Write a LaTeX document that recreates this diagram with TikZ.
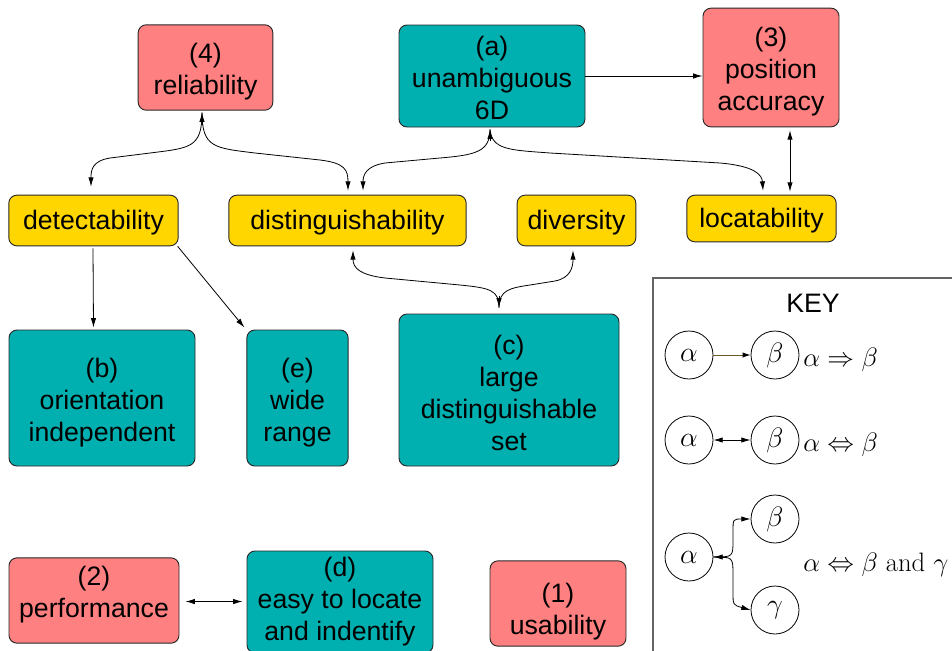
\documentclass[tikz,border=0pt]{standalone}
\usepackage{fix-cm}
\usepackage{fontspec}
\newfontfamily\arialfont{Liberation Sans}
\usetikzlibrary{arrows.meta,calc}
\definecolor{tealbox}{RGB}{0,176,176}
\definecolor{pinkbox}{RGB}{255,128,128}
\definecolor{goldbox}{RGB}{255,214,0}
\definecolor{edgegray}{RGB}{40,40,40}
\definecolor{keygray}{RGB}{100,100,100}
\definecolor{oliveline}{RGB}{110,90,40}
% invisible strut that lowers the first line of a box label
\newcommand{\topstrut}[1]{\rule{0pt}{#1}}
\tikzset{
  boxtext/.style={align=center, inner sep=0pt, font=\arialfont\fontsize{20}{24}\selectfont},
  box/.style={draw=edgegray, line width=0.7pt, rounded corners=6pt, boxtext},
  goal/.style={box, fill=pinkbox},
  feat/.style={box, fill=tealbox},
  prop/.style={box, fill=goldbox},
  arr/.style={line width=0.6pt, -{Latex[length=7pt,width=4pt]}},
  darr/.style={line width=0.6pt, {Latex[length=7pt,width=4pt]}-{Latex[length=7pt,width=4pt]}},
  keycirc/.style={circle, draw, line width=0.6pt, minimum size=36pt, inner sep=0pt,
    font=\fontsize{21}{24}\selectfont},
  keytxt/.style={anchor=west, inner sep=0pt, font=\fontsize{20}{24}\selectfont},
}
\begin{document}
\begin{tikzpicture}[x=0.75pt,y=-0.75pt]
\useasboundingbox (0,0) rectangle (952,650);
\clip (0,0) rectangle (952,650);

% top row
\node[goal, minimum width=101pt, minimum height=64pt] (rel) at (205.5,67.5) {\topstrut{20pt}(4)\\reliability};
\node[feat, minimum width=139.5pt, minimum height=76.5pt] (unam) at (492,76) {\topstrut{18pt}(a)\\unambiguous\\6D};
\node[goal, minimum width=102pt, minimum height=89pt] (pos) at (771,67.5) {\topstrut{20pt}(3)\\position\\accuracy};

% properties
\node[prop, minimum width=127pt, minimum height=38pt] (det) at (93.5,220.5) {\topstrut{17.5pt}detectability};
\node[prop, minimum width=178pt, minimum height=38pt] (dist) at (347.5,220.5) {\topstrut{17.5pt}distinguishability};
\node[prop, minimum width=89pt, minimum height=38pt] (div) at (576.5,220.5) {\topstrut{17.5pt}diversity};
\node[prop, minimum width=112pt, minimum height=35pt] (loc) at (761.5,218.5) {\topstrut{17.5pt}locatability};

% middle row
\node[feat, minimum width=139.5pt, minimum height=102pt] (orient) at (102,398) {\topstrut{22pt}(b)\\orientation\\independent};
\node[feat, minimum width=76pt, minimum height=102pt] (wide) at (297.5,398) {\topstrut{22pt}(e)\\wide\\range};
\node[feat, minimum width=165pt, minimum height=114pt] (large) at (509,390) {\topstrut{19pt}(c)\\large\\distinguishable\\set};

% bottom row
\node[goal, minimum width=127.5pt, minimum height=64pt] (perf) at (94,600.5) {};
\node[boxtext] (perftxt) at (94,595) {(2)\\performance};
\node[feat, minimum width=139.5pt, minimum height=76.5pt] (easy) at (340,602) {(d)\\easy to locate\\and indentify};
\node[goal, minimum width=102pt, minimum height=64pt] (usa) at (558,603.5) {};
\node[boxtext] (usatxt) at (558,611.5) {(1)\\usability};

% straight connectors
\draw[arr] (unam.east) -- (pos.west |- unam.east);
\coordinate (vx) at (790,0);
\draw[darr] ($(pos.south -| vx)+(0,3)$) -- ($(loc.north -| vx)+(0,-3)$);
\draw[arr] ($(det.south)+(-0.5,2)$) -- ($(orient.north -| det.south)+(0,-2)$);
\draw[arr] ($(det.south east)+(-1,0)$) -- ($(wide.north west)+(-2,-2)$);
\draw[darr] ($(perf.east)+(6,1)$) -- ($(easy.west |- perf.east)+(-4,1)$);

% fork at reliability
\coordinate (relf) at ($(rel.south)+(-3.5,2)$);
\draw[arr] (relf) .. controls (202,148) and (190,148) .. (150,153) -- (110,158)
  .. controls (92,161) and (91,170) .. ($(det.north)+(-2.5,-8)$);
\draw[arr] (relf) .. controls (202,148) and (215,148) .. (255,153) -- (320,160)
  .. controls (345,163) and (348,170) .. ($(dist.north)+(0.5,-4)$);
\draw[arr] ($(relf)+(0,12)$) -- (relf);

% fork at unambiguous 6D
\coordinate (unf) at ($(unam.south)+(-2,2)$);
\draw[arr] (unf) .. controls (490,152) and (475,155) .. (440,158) -- (385,163)
  .. controls (366,166) and (363,175) .. ($(dist.north)+(15.5,-4)$);
\draw[arr] (unf) .. controls (492,150) and (510,150) .. (550,153) -- (720,163)
  .. controls (755,166) and (762,175) .. ($(loc.north)+(1.5,-4)$);
\draw[arr] ($(unf)+(0,12)$) -- (unf);

% fork at large distinguishable set
\coordinate (lgf) at ($(large.north)+(-10,-6)$);
\draw[arr] (lgf) .. controls (499,290) and (490,288) .. (460,285) -- (385,278)
  .. controls (360,275) and (353,268) .. ($(dist.south)+(5.5,4)$);
\draw[arr] (lgf) .. controls (499,290) and (510,288) .. (530,285) -- (555,281)
  .. controls (570,278) and (573,268) .. ($(div.south)+(-3.5,4)$);
\draw[arr] ($(lgf)+(0,-12)$) -- (lgf);

% key
\draw[keygray, line width=1.1pt] (653,278) rectangle (1000,700);
\node[font=\arialfont\fontsize{20}{24}\selectfont] (keyttl) at (813,303) {KEY};

\node[keycirc] (ka1) at (689,355) {$\alpha$};
\node[keycirc] (kb1) at (775,355) {$\beta$};
\draw[oliveline, line width=0.7pt, -{Latex[length=6pt,width=4pt,color=black]}] (ka1) -- (kb1);
\node[keytxt] (kt1) at (803,360) {$\alpha\Rightarrow\beta$};

\node[keycirc] (ka2) at (689,440) {$\alpha$};
\node[keycirc] (kb2) at (775,440) {$\beta$};
\draw[darr] (ka2) -- (kb2);
\node[keytxt] (kt2) at (803,445) {$\alpha\Leftrightarrow\beta$};

\node[keycirc] (ka3) at (689,557) {$\alpha$};
\node[keycirc] (kb3) at (775,519) {$\beta$};
\node[keycirc] (kc3) at (775,610) {$\gamma$};
\draw[arr] (ka3.east) .. controls (733,557) .. (733,540) -- (733,532)
  .. controls (733,519) .. (kb3.west);
\draw[arr] (ka3.east) .. controls (733,557) .. (733,575) -- (733,592)
  .. controls (733,605) .. (kc3.west);
\draw[arr] ($(ka3.east)+(14,0)$) -- (ka3.east);
\node[keytxt] (kt3) at (803,565) {$\alpha\Leftrightarrow\beta$ and $\gamma$};
\end{tikzpicture}
\end{document}
